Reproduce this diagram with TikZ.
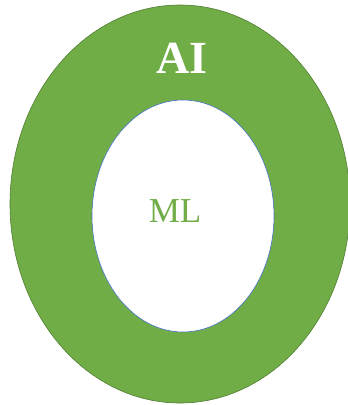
\documentclass[tikz,border=0pt]{standalone}
\usepackage{fontspec}
\setmainfont{Liberation Serif}
\usetikzlibrary{positioning}
\definecolor{aigreen}{HTML}{70AD47}
\definecolor{aiedge}{HTML}{507E32}
\definecolor{mledge}{HTML}{4472C4}
\begin{document}
\begin{tikzpicture}[x=1pt, y=-1pt,
     outer/.style={draw=aiedge, line width=0.6pt, fill=aigreen},
     inner/.style={draw=mledge, line width=0.6pt, fill=white},
     lbl/.style={inner sep=0pt}]
   \useasboundingbox (0,0) rectangle (348,405);
   \draw[outer] (180,204) ellipse [x radius=170pt, y radius=199pt];
   \draw[inner] (183,216) ellipse [x radius=91pt, y radius=116pt];
   \node[lbl, text=white, font=\fontsize{46}{46}\selectfont\bfseries] (ai) at (182,58) {AI};
   \node[lbl, text=aigreen, font=\fontsize{35}{35}\selectfont] (ml) at (175,211) {ML};
  \end{tikzpicture}
\end{document}
